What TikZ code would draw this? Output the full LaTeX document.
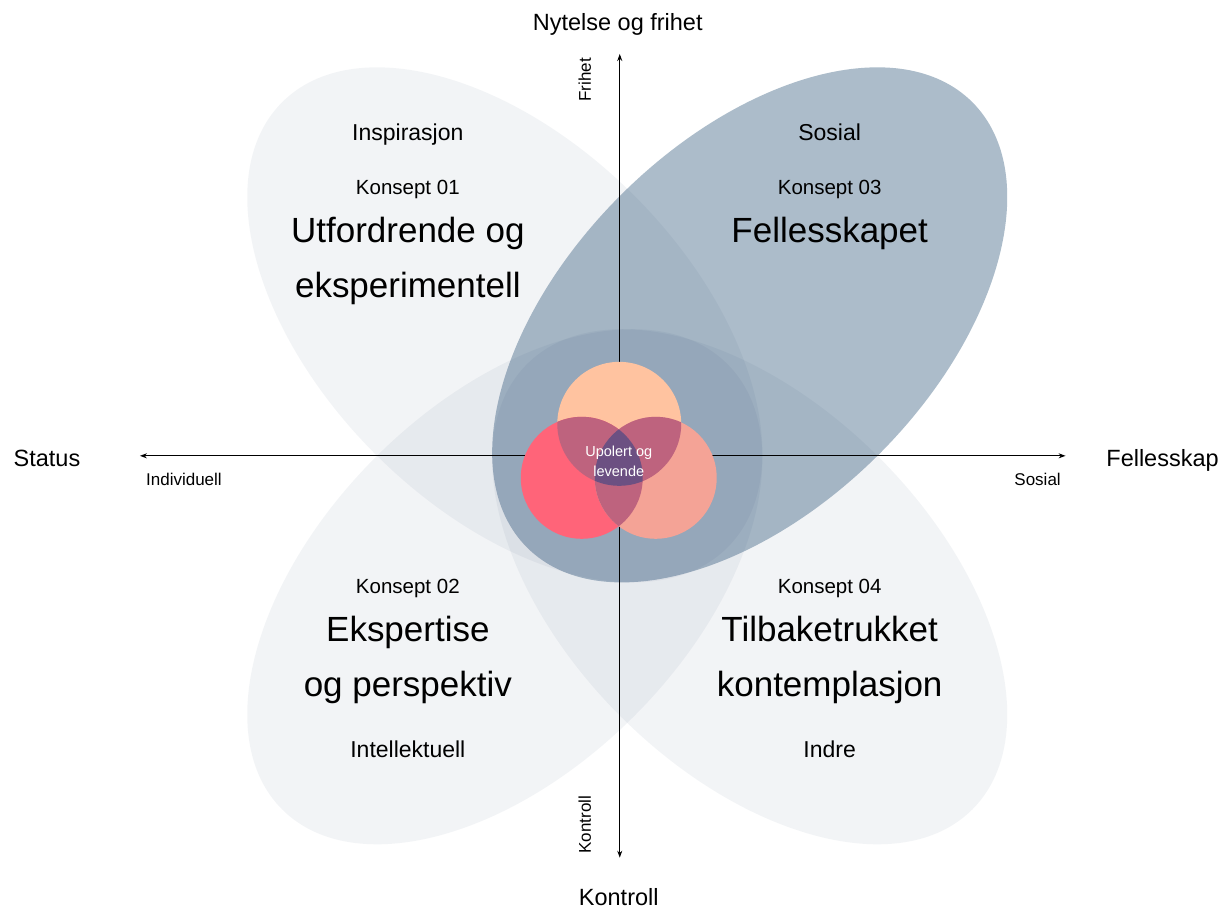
\documentclass[tikz,border=0pt]{standalone}
\usepackage{fontspec}
\setmainfont{Liberation Sans}
\usetikzlibrary{arrows.meta}

\definecolor{skygge}{HTML}{24406A}
\definecolor{blaagraa}{HTML}{ACBCCA}
\definecolor{fersken}{HTML}{FFC3A0}
\definecolor{rosa}{HTML}{FF6479}
\definecolor{laks}{HTML}{F4A396}
\definecolor{overlapp}{HTML}{BE637E}
\definecolor{kjerne}{HTML}{6C5082}

\tikzset{
  lys/.style={fill=skygge, fill opacity=0.055},
  akse/.style={line width=0.9pt, {Stealth[length=7pt,width=5pt]}-{Stealth[length=7pt,width=5pt]}},
  liten/.style={font=\fontsize{17}{20}\selectfont},
  konsept/.style={font=\fontsize{20.5}{24}\selectfont, anchor=base},
  beskriv/.style={font=\fontsize{23}{27}\selectfont, anchor=base},
  akselabel/.style={font=\fontsize{23.5}{28}\selectfont, anchor=base},
  tittel/.style={font=\fontsize{35}{42}\selectfont, anchor=base},
  midt/.style={font=\fontsize{14.5}{17}\selectfont, text=white, anchor=base},
}

\begin{document}
\begin{tikzpicture}[x=1pt, y=-1pt]
    \fill[white] (0,0) rectangle (1222,909);

    \coordinate (O) at (620,456);
    \coordinate (N) at (620,54);
    \coordinate (S) at (620,858);
    \coordinate (W) at (140,456);
    \coordinate (E) at (1066,456);

    \coordinate (TL) at (505,325);
    \coordinate (TR) at (750,325);
    \coordinate (BL) at (505,587);
    \coordinate (BR) at (750,587);

    \fill[blaagraa, rotate around={45:(TR)}] (TR) ellipse [x radius=315, y radius=183];
    \foreach \c/\v in {TL/-45, BL/45, BR/-45}
    \fill[lys, rotate around={\v:(\c)}] (\c) ellipse [x radius=315, y radius=183];

    \draw[akse] (W) -- (E);
    \draw[akse] (S) -- (N);

    \coordinate (CT) at (619.5,424);
    \coordinate (CL) at (582,478);
    \coordinate (CR) at (656,478);

    \fill[fersken] (CT) circle[radius=62];
    \fill[rosa] (CL) circle[radius=61];
    \fill[laks] (CR) circle[radius=61];
    \begin{scope}
        \clip (CT) circle[radius=62];
        \fill[overlapp] (CL) circle[radius=61] (CR) circle[radius=61];
    \end{scope}
    \begin{scope}
        \clip (CL) circle[radius=61];
        \fill[overlapp] (CR) circle[radius=61];
    \end{scope}
    \begin{scope}
        \clip (CT) circle[radius=62];
        \clip (CL) circle[radius=61];
        \fill[kjerne] (CR) circle[radius=61];
    \end{scope}

    \node[midt] (upolert) at (619,457) {Upolert og};
    \node[midt] (levende) at (619,477) {levende};

    \node[akselabel] (nytelse) at (618,31) {Nytelse og frihet};
    \node[akselabel] (kontroll) at (619,906) {Kontroll};
    \node[akselabel] (status) at (47,467) {Status};
    \node[akselabel] (fellesskap) at (1163,467) {Fellesskap};
    \node[liten, anchor=base] (individuell) at (184,486) {Individuell};
    \node[liten, anchor=base] (sosialakse) at (1038,486) {Sosial};
    \node[liten, rotate=90] (frihet) at (585,80) {Frihet};
    \node[liten, rotate=90] (kontrollakse) at (585,825) {Kontroll};

    \node[beskriv] (inspirasjon) at (408,141) {Inspirasjon};
    \node[konsept] (k1) at (408,195) {Konsept 01};
    \node[tittel] (t1a) at (408,243) {Utfordrende og};
    \node[tittel] (t1b) at (408,298) {eksperimentell};

    \node[beskriv] (sosial) at (830,141) {Sosial};
    \node[konsept] (k3) at (830,195) {Konsept 03};
    \node[tittel] (t3) at (830,243) {Fellesskapet};

    \node[konsept] (k2) at (408,594) {Konsept 02};
    \node[tittel] (t2a) at (408,642) {Ekspertise};
    \node[tittel] (t2b) at (408,697) {og perspektiv};
    \node[beskriv] (intellektuell) at (408,758) {Intellektuell};

    \node[konsept] (k4) at (830,594) {Konsept 04};
    \node[tittel] (t4a) at (830,642) {Tilbaketrukket};
    \node[tittel] (t4b) at (830,697) {kontemplasjon};
    \node[beskriv] (indre) at (830,758) {Indre};
\end{tikzpicture}
\end{document}
